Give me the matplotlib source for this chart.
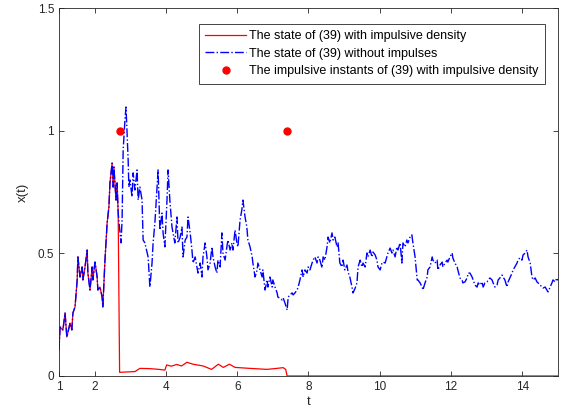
import numpy as np
import matplotlib.pyplot as plt

plt.rcParams['font.family'] = ['Liberation Sans', 'DejaVu Sans']

# --- state of (39) without impulses ---
t_free = [
    1.00, 1.03, 1.11, 1.17, 1.22, 1.31, 1.36, 1.39, 1.45, 1.51, 1.53, 1.59, 1.65, 1.67,
    1.73, 1.79, 1.81, 1.87, 1.93, 1.95, 2.01, 2.07, 2.09, 2.15, 2.21, 2.23, 2.29, 2.35,
    2.37, 2.40, 2.43, 2.49, 2.52, 2.54, 2.60, 2.63, 2.66,
    2.74, 2.77, 2.80, 2.85, 2.88, 2.91, 2.94, 2.96, 2.99, 3.05, 3.08, 3.13, 3.19, 3.22,
    3.27, 3.33, 3.36, 3.41, 3.50, 3.55, 3.61, 3.64, 3.69, 3.75, 3.78, 3.81, 3.83, 3.89,
    3.92, 3.97, 4.03, 4.06, 4.11, 4.17, 4.20, 4.25, 4.31, 4.34, 4.40, 4.45, 4.48, 4.54,
    4.59, 4.62, 4.68, 4.73, 4.76, 4.82, 4.87, 4.90, 4.96, 5.01, 5.04, 5.10, 5.15, 5.18,
    5.24, 5.29, 5.32, 5.38, 5.43, 5.46, 5.52, 5.57, 5.60, 5.66, 5.71, 5.74, 5.80, 5.85,
    5.88, 5.94, 5.99, 6.02, 6.08, 6.13, 6.16, 6.22, 6.27, 6.30, 6.36, 6.42, 6.44, 6.50,
    6.56, 6.58, 6.64, 6.70, 6.72, 6.78, 6.84, 6.86, 6.92, 6.98, 7.00, 7.06, 7.12, 7.14,
    7.20, 7.26, 7.29, 7.34, 7.40, 7.43, 7.48, 7.54, 7.57, 7.62, 7.68, 7.71, 7.76, 7.82,
    7.85, 7.90, 7.96, 7.99, 8.04, 8.10, 8.13, 8.18, 8.24, 8.27, 8.32, 8.38, 8.41, 8.46,
    8.52, 8.55, 8.60, 8.66, 8.69, 8.74, 8.80, 8.83, 8.88, 8.94, 8.97, 9.02, 9.08, 9.11,
    9.16, 9.22, 9.25, 9.31, 9.36, 9.39, 9.45, 9.50, 9.53, 9.59, 9.64, 9.67, 9.73, 9.78,
    9.81, 9.87, 9.92, 9.95, 10.01, 10.06, 10.09, 10.15, 10.20, 10.23, 10.29, 10.34, 10.37,
    10.43, 10.48, 10.51, 10.57, 10.62, 10.65, 10.71, 10.76, 10.79, 10.85, 10.90, 10.93,
    10.99, 11.05, 11.07, 11.13, 11.19, 11.21, 11.27, 11.33, 11.35, 11.41, 11.47, 11.49,
    11.55, 11.61, 11.63, 11.69, 11.75, 11.77, 11.83, 11.89, 11.91, 11.97, 12.03, 12.05,
    12.11, 12.17, 12.19, 12.25, 12.31, 12.33, 12.39, 12.45, 12.48, 12.53, 12.59, 12.62,
    12.67, 12.73, 12.76, 12.81, 12.87, 12.90, 12.95, 13.01, 13.04, 13.09, 13.15, 13.18,
    13.23, 13.29, 13.32, 13.37, 13.43, 13.46, 13.51, 13.57, 13.60, 13.65, 13.71, 13.74,
    13.79, 13.85, 13.88, 13.93, 13.99, 14.02, 14.08, 14.13, 14.16, 14.22, 14.27, 14.30,
    14.36, 14.41, 14.44, 14.50, 14.55, 14.58, 14.64, 14.69, 14.72, 14.78, 14.83, 14.86,
    14.92, 14.97, 15.00]
x_free = [
    0.106, 0.200, 0.188, 0.257, 0.159, 0.216, 0.188, 0.257, 0.282, 0.392, 0.486, 0.404, 0.445, 0.392,
    0.445, 0.514, 0.420, 0.351, 0.445, 0.392, 0.465, 0.404, 0.351, 0.363, 0.322, 0.282, 0.473, 0.624,
    0.649, 0.690, 0.788, 0.869, 0.771, 0.853, 0.718, 0.788, 0.665,
    0.543, 0.637, 0.922, 1.045, 1.098, 0.992, 0.882, 0.771, 0.800, 0.731, 0.829, 0.759, 0.841, 0.718,
    0.771, 0.718, 0.555, 0.543, 0.486, 0.363, 0.461, 0.543, 0.624, 0.771, 0.841, 0.690, 0.596, 0.665,
    0.584, 0.527, 0.718, 0.841, 0.718, 0.608, 0.584, 0.543, 0.649, 0.543, 0.567, 0.608, 0.486, 0.555,
    0.567, 0.649, 0.584, 0.514, 0.461, 0.486, 0.445, 0.420, 0.461, 0.404, 0.486, 0.543, 0.486, 0.433,
    0.461, 0.527, 0.486, 0.445, 0.420, 0.473, 0.445, 0.584, 0.502, 0.473, 0.527, 0.555, 0.514, 0.543,
    0.514, 0.596, 0.543, 0.527, 0.637, 0.678, 0.718, 0.649, 0.608, 0.555, 0.527, 0.486, 0.461, 0.404,
    0.433, 0.461, 0.433, 0.404, 0.433, 0.351, 0.392, 0.363, 0.404, 0.363, 0.392, 0.363, 0.339, 0.322,
    0.318, 0.310, 0.318, 0.298, 0.269, 0.322, 0.331, 0.339, 0.331, 0.339, 0.351, 0.363, 0.392, 0.433,
    0.404, 0.433, 0.420, 0.445, 0.433, 0.461, 0.473, 0.486, 0.461, 0.486, 0.473, 0.441, 0.486, 0.473,
    0.527, 0.567, 0.543, 0.584, 0.555, 0.567, 0.527, 0.543, 0.461, 0.445, 0.473, 0.433, 0.453, 0.424,
    0.404, 0.363, 0.339, 0.359, 0.380, 0.445, 0.473, 0.445, 0.461, 0.445, 0.502, 0.486, 0.514, 0.486,
    0.506, 0.494, 0.473, 0.445, 0.433, 0.461, 0.465, 0.461, 0.486, 0.502, 0.522, 0.502, 0.514,
    0.486, 0.527, 0.514, 0.543, 0.461, 0.543, 0.527, 0.555, 0.543, 0.567, 0.576, 0.543,
    0.486, 0.392, 0.392, 0.380, 0.363, 0.351, 0.380, 0.404, 0.433, 0.445, 0.486, 0.473,
    0.461, 0.473, 0.433, 0.453, 0.465, 0.445, 0.461, 0.473, 0.465, 0.486, 0.502, 0.482,
    0.461, 0.445, 0.433, 0.400, 0.392, 0.380, 0.384, 0.400, 0.420, 0.420, 0.404, 0.392,
    0.371, 0.363, 0.380, 0.371, 0.384, 0.363, 0.380, 0.384, 0.392, 0.400, 0.392, 0.380,
    0.363, 0.371, 0.392, 0.400, 0.412, 0.404, 0.392, 0.363, 0.384, 0.400, 0.420, 0.433,
    0.445, 0.461, 0.473, 0.482, 0.473, 0.494, 0.502, 0.514, 0.486, 0.461, 0.404, 0.392,
    0.400, 0.384, 0.380, 0.371, 0.363, 0.359, 0.363, 0.351, 0.343, 0.363, 0.380, 0.392,
    0.384, 0.400, 0.390]

# --- state with impulsive density: same path until the first impulse, then this ---
t_jump = [2.70, 2.85, 3.13, 3.27, 3.55, 3.80, 3.97, 4.02, 4.15, 4.30, 4.44, 4.59, 4.76,
          5.04, 5.28, 5.47, 5.61, 5.78, 5.94, 6.15, 6.36, 6.60, 6.83, 7.05, 7.29, 7.36,
          7.40, 15.00]
x_jump = [0.015, 0.016, 0.018, 0.031, 0.030, 0.027, 0.024, 0.045, 0.040, 0.047, 0.041,
          0.056, 0.048, 0.041, 0.027, 0.048, 0.035, 0.048, 0.035, 0.033, 0.031, 0.029,
          0.027, 0.030, 0.034, 0.027, 0.0, 0.0]

# impulsive instants
t_imp = [2.70, 7.40]
x_imp = [1.0, 1.0]

t_free = np.array(t_free)
x_free = np.array(x_free)
pre = t_free < t_jump[0]
t_imp_path = np.concatenate([t_free[pre], t_jump])
x_imp_path = np.concatenate([x_free[pre], x_jump])

fig = plt.figure(figsize=(5.63, 4.2), dpi=100)
ax = fig.add_axes([0.1048, 0.1048, 0.8863, 0.875])

ax.plot(t_imp_path, x_imp_path, color='#FF0000', linewidth=0.9,
        label='The state of (39) with impulsive density')
ax.plot(t_free, x_free, color='#0000FF', linestyle='-.', linewidth=1.0,
        label='The state of (39) without impulses')
ax.plot(t_imp, x_imp, 'o', color='#FF0000', markersize=5, linestyle='none',
        label='The impulsive instants of (39) with impulsive density')

ax.set_xlim(1, 15)
ax.set_ylim(0, 1.5)
ax.set_xticks([1, 2, 4, 6, 8, 10, 12, 14])
ax.set_xticklabels(['1', '2', '4', '6', '8', '10', '12', '14'])
ax.set_yticks([0, 0.5, 1, 1.5])
ax.set_yticklabels(['0', '0.5', '1', '1.5'])
ax.tick_params(direction='in', length=3.5, width=0.6, labelsize=8.5, colors='#262626',
               top=True, right=True)
for s in ax.spines.values():
    s.set_linewidth(0.6)
    s.set_color('#262626')

ax.set_xlabel('t', fontsize=9.5, color='#262626', labelpad=2)
ax.set_ylabel('x(t)', fontsize=9.5, color='#262626', labelpad=6)

leg = ax.legend(loc='upper right', bbox_to_anchor=(0.974, 0.958), fontsize=9,
                handlelength=3.3, borderaxespad=0, fancybox=False, framealpha=1,
                edgecolor='#262626', borderpad=0.5, labelspacing=0.45, handletextpad=0.25)
leg.get_frame().set_linewidth(0.6)

fig.savefig('out.png', dpi=100)
